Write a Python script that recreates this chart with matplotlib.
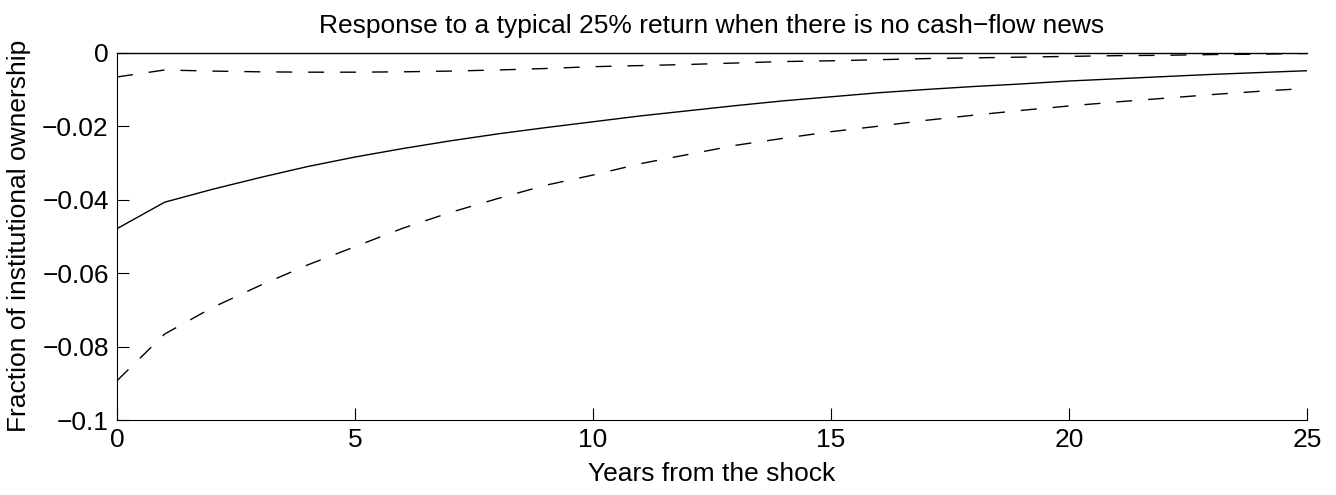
import numpy as np
import matplotlib.pyplot as plt

plt.rcParams['font.family'] = ['Liberation Sans', 'DejaVu Sans']

# years after the shock
years = np.arange(26)

# point estimate (solid) and the two confidence bands (dashed)
estimate = [-0.0479, -0.0407, -0.0372, -0.0340, -0.0310, -0.0284, -0.0261, -0.0240,
            -0.0221, -0.0204, -0.0188, -0.0172, -0.0158, -0.0144, -0.0131, -0.0120,
            -0.0109, -0.0100, -0.0092, -0.0085, -0.0077, -0.0071, -0.0065, -0.0059,
            -0.0054, -0.0049]
lower = [-0.0893, -0.0766, -0.0694, -0.0634, -0.0578, -0.0528, -0.0478, -0.0435,
         -0.0397, -0.0361, -0.0333, -0.0302, -0.0277, -0.0252, -0.0233, -0.0215,
         -0.0200, -0.0184, -0.0170, -0.0157, -0.0145, -0.0134, -0.0124, -0.0114,
         -0.0105, -0.0097]
upper = [-0.0066, -0.0047, -0.0050, -0.0052, -0.0053, -0.0053, -0.0052, -0.0050,
         -0.0047, -0.0043, -0.0038, -0.0035, -0.0032, -0.0028, -0.0024, -0.0022,
         -0.0019, -0.0016, -0.0014, -0.0012, -0.0010, -0.0008, -0.0007, -0.0005,
         -0.0004, -0.0002]
zero = [0.0] * 26

xticks = [0, 5, 10, 15, 20, 25]
yticks = [0, -0.02, -0.04, -0.06, -0.08, -0.1]
ytick_labels = ['0', '\u22120.02', '\u22120.04', '\u22120.06', '\u22120.08', '\u22120.1']

fig = plt.figure(figsize=(13.36, 4.95), dpi=100)
ax = fig.add_axes([0.0876, 0.1515, 0.8907, 0.742])

dash = (0, (11.5, 11.5))
ax.plot(years, estimate, color='black', linewidth=1.0)
ax.plot(years, lower, color='black', linewidth=1.0, linestyle=dash)
ax.plot(years, upper, color='black', linewidth=1.0, linestyle=dash)
ax.plot(years, zero, color='black', linewidth=1.0, clip_on=False)

ax.set_xlim(0, 25)
ax.set_ylim(-0.1, 0)
ax.set_xticks(xticks)
ax.set_xticklabels([str(x) for x in xticks])
ax.set_yticks(yticks)
ax.set_yticklabels(ytick_labels)

for s in ['top', 'right']:
    ax.spines[s].set_visible(False)
for s in ['left', 'bottom']:
    ax.spines[s].set_linewidth(0.8)

ax.tick_params(direction='in', length=8.5, width=0.8, labelsize=19, pad=6)

ax.set_title('Response to a typical 25% return when there is no cash\u2212flow news',
             fontsize=19, pad=14)
ax.set_xlabel('Years from the shock', fontsize=19, labelpad=7)
ax.set_ylabel('Fraction of institutional ownership', fontsize=19, labelpad=8)

fig.savefig('out.png', dpi=100)
